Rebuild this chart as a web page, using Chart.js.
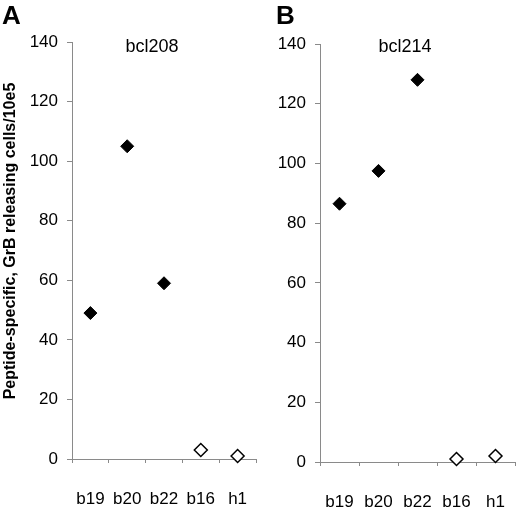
<!DOCTYPE html>
<html>
<head>
<meta charset="utf-8">
<script src="https://cdn.jsdelivr.net/npm/chart.js@4/dist/chart.umd.min.js"></script>
<style>
  html, body { margin: 0; padding: 0; background: #fff; overflow: hidden; }
  #wrap { position: relative; width: 520px; height: 513px; overflow: hidden; }
  .panel { position: absolute; top: 0; height: 513px; }
</style>
</head>
<body>
<div id="wrap">
  <div class="panel" style="left:0;width:264px"><canvas id="chartA"></canvas></div>
  <div class="panel" style="left:260px;width:263px"><canvas id="chartB"></canvas></div>
</div>
<script>
    var categories = ["b19", "b20", "b22", "b16", "h1"];
    var yTicks = [0, 20, 40, 60, 80, 100, 120, 140];

    // bcl208 (panel A)
    var bcl208Specific = [49, 105, 59, null, null];
    var bcl208Control = [null, null, null, 3, 1];

    // bcl214 (panel B)
    var bcl214Specific = [86.5, 97.5, 128, null, null];
    var bcl214Control = [null, null, null, 1, 2];

    var yTitle = "Peptide-specific, GrB releasing cells/10e5";
    var FONT = "'Liberation Sans', Arial, sans-serif";
    var AXIS = "#8a8a8a";

    // letter, subtitle and (optional) rotated y title
    var labelsPlugin = {
        id: 'panelText',
        afterDraw: function(chart) {
            var o = chart.options.plugins.panelText;
            var ctx = chart.ctx;
            ctx.save();
            ctx.fillStyle = '#000';
            ctx.textBaseline = 'alphabetic';
            ctx.font = 'bold 26px ' + FONT;
            ctx.textAlign = 'left';
            ctx.fillText(o.letter, o.letterX, 24);
            ctx.font = '18px ' + FONT;
            ctx.textAlign = 'center';
            ctx.fillText(o.title, o.titleX, 52);
            if (o.yTitle) {
                ctx.translate(15, 241);
                ctx.rotate(-Math.PI / 2);
                ctx.font = 'bold 16px ' + FONT;
                ctx.textAlign = 'center';
                ctx.fillText(o.yTitle, 0, 0);
            }
            ctx.restore();
        }
    };

    function makeConfig(specific, control, lay, text) {
        return {
            type: 'line',
            data: {
                labels: categories,
                datasets: [{
                    data: specific,
                    showLine: false,
                    pointStyle: 'rectRot',
                    pointRadius: 6.5,
                    pointBackgroundColor: '#000',
                    pointBorderColor: '#000',
                    pointBorderWidth: 1,
                    clip: false
                }, {
                    data: control,
                    showLine: false,
                    pointStyle: 'rectRot',
                    pointRadius: 6.5,
                    pointBackgroundColor: '#fff',
                    pointBorderColor: '#000',
                    pointBorderWidth: 1.5,
                    clip: false
                }]
            },
            options: {
                responsive: true,
                maintainAspectRatio: false,
                animation: false,
                layout: { padding: { left: 0, right: 0, top: lay.top, bottom: 0 } },
                plugins: {
                    legend: { display: false },
                    tooltip: { enabled: false },
                    panelText: text
                },
                scales: {
                    x: {
                        type: 'category',
                        offset: true,
                        grid: { offset: true, drawOnChartArea: false, tickLength: 4, color: AXIS },
                        border: { color: AXIS },
                        ticks: { color: '#000', font: { family: FONT, size: 17 }, padding: 26, maxRotation: 0 },
                        afterFit: function(s) {
                            s.height = lay.xHeight;
                            s.paddingLeft = 0;
                            s.paddingRight = 0;
                        }
                    },
                    y: {
                        min: 0,
                        max: 140,
                        afterBuildTicks: function(s) { s.ticks = yTicks.map(function(v) { return { value: v }; }); },
                        grid: { drawOnChartArea: false, tickLength: 5, color: AXIS },
                        border: { color: AXIS },
                        ticks: { color: '#000', font: { family: FONT, size: 17 }, padding: 9 },
                        afterFit: function(s) {
                            s.width = lay.yWidth;
                            s.paddingTop = 0;
                            s.paddingBottom = 0;
                        }
                    }
                }
            },
            plugins: [labelsPlugin]
        };
    }

    window.onload = function() {
        new Chart(document.getElementById("chartA"),
            makeConfig(bcl208Specific, bcl208Control,
                { top: 42, xHeight: 54, yWidth: 72 },
                { letter: 'A', letterX: 2, title: 'bcl208', titleX: 152, yTitle: yTitle }));
        new Chart(document.getElementById("chartB"),
            makeConfig(bcl214Specific, bcl214Control,
                { top: 44, xHeight: 51, yWidth: 60 },
                { letter: 'B', letterX: 16, title: 'bcl214', titleX: 145 }));
    };
</script>
</body>
</html>
